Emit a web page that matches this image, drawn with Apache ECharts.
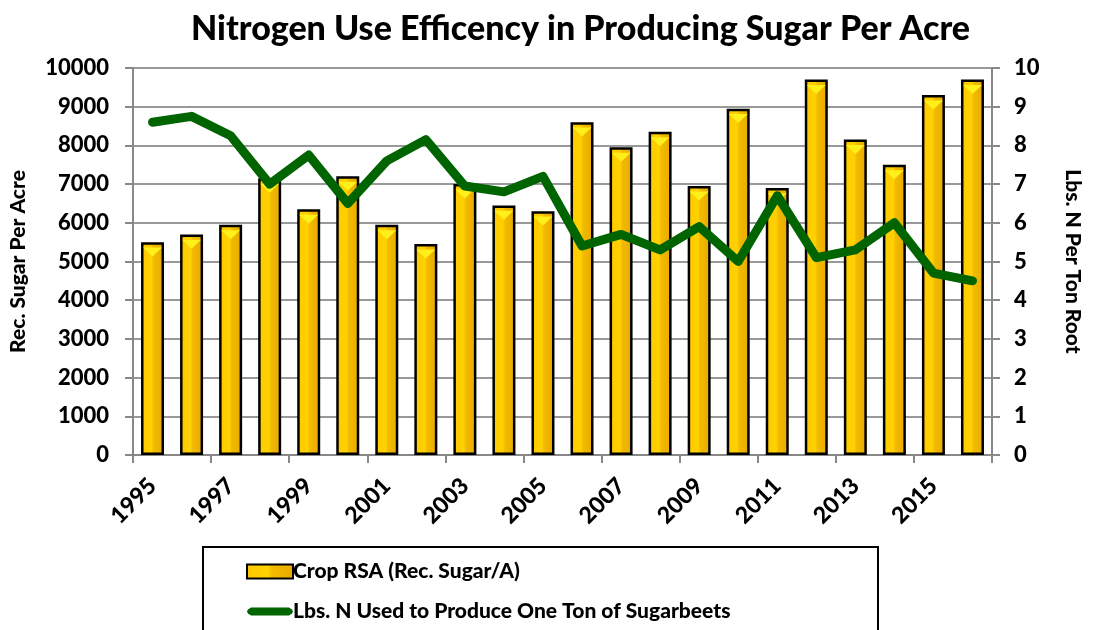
<!DOCTYPE html>
<html>
<head>
<meta charset="utf-8">
<script src="https://cdn.jsdelivr.net/npm/echarts@6/dist/echarts.min.js"></script>
<style>
  html, body { margin: 0; padding: 0; background: #fff; }
  #chart { width: 1097px; height: 630px; }
</style>
</head>
<body>
<div id="chart"></div>
<script>
// 年份
const years = ["1995", "1996", "1997", "1998", "1999", "2000", "2001", "2002", "2003", "2004", "2005",
  "2006", "2007", "2008", "2009", "2010", "2011", "2012", "2013", "2014", "2015", "2016"];
// 每英亩可回收糖 (左轴)
const cropRSA = [5500, 5700, 5950, 7150, 6350, 7200, 5950, 5450, 7000, 6450, 6300,
  8600, 7950, 8350, 6950, 8950, 6900, 9700, 8150, 7500, 9300, 9700];
// 每吨甜菜用氮量 (右轴)
const lbsN = [8.6, 8.75, 8.25, 7.0, 7.75, 6.5, 7.6, 8.15, 6.95, 6.8, 7.2,
  5.4, 5.7, 5.3, 5.9, 5.0, 6.7, 5.1, 5.3, 6.0, 4.7, 4.5];
const leftTicks = { min: 0, max: 10000, interval: 1000 };
const rightTicks = { min: 0, max: 10, interval: 1 };

const FONT = "Lato";
const WEIGHT = 900;
const chart = echarts.init(document.getElementById("chart"));

const barGradient = new echarts.graphic.LinearGradient(0, 0, 1, 0, [
  { offset: 0, color: "#FFC800" },
  { offset: 0.45, color: "#FFD200" },
  { offset: 0.55, color: "#F2BA00" },
  { offset: 1, color: "#E8AA00" },
]);

const option = {
  animation: false,
  title: {
    text: "Nitrogen Use Efficency in Producing Sugar Per Acre",
    left: 186,
    top: 7,
    textStyle: { fontFamily: FONT, fontWeight: WEIGHT, fontSize: 34, color: "#000" },
  },
  graphic: [
    {
      type: "rect",
      shape: { x: 203, y: 547, width: 675, height: 100 },
      style: { fill: "none", stroke: "#000", lineWidth: 2 },
    },
  ],
  legend: {
    orient: "vertical",
    left: 241,
    top: 556,
    height: 100,
    itemGap: 19,
    itemWidth: 46,
    itemHeight: 14,
    data: [
      { name: "Crop RSA (Rec. Sugar/A)", icon: "rect" },
      {
        name: "Lbs. N Used to Produce One Ton of Sugarbeets",
        icon: "path://M0,0 M46,14 M4,3 L42,3 L45,5 L46,7 L45,9 L42,11 L4,11 L1,9 L0,7 L1,5 Z",
      },
    ],
    textStyle: { fontFamily: FONT, fontWeight: WEIGHT, fontSize: 21, color: "#000", padding: [0, 0, 0, -5] },
  },
  grid: { left: 133, right: 105, top: 68, bottom: 175 },
  xAxis: {
    type: "category",
    data: years,
    boundaryGap: true,
    axisLine: { lineStyle: { color: "#888", width: 2 } },
    axisTick: { show: true, length: 8, lineStyle: { color: "#888", width: 2 } },
    axisLabel: {
      interval: 1,
      rotate: 45,
      margin: 27,
      fontFamily: FONT,
      fontWeight: WEIGHT,
      fontSize: 23,
      color: "#000",
    },
  },
  yAxis: [
    {
      type: "value",
      ...leftTicks,
      name: "Rec. Sugar Per Acre",
      nameLocation: "middle",
      nameGap: 104,
      nameRotate: 90,
      nameTextStyle: { fontFamily: FONT, fontWeight: WEIGHT, fontSize: 21, color: "#000" },
      axisLine: { show: true, lineStyle: { color: "#888", width: 2 } },
      axisTick: { show: true, length: 8, lineStyle: { color: "#888", width: 2 } },
      axisLabel: {
        margin: 24,
        formatter: (v) => String(v),
        fontFamily: FONT,
        fontWeight: WEIGHT,
        fontSize: 22,
        color: "#000",
      },
      splitLine: { show: true, lineStyle: { color: "#999", width: 2 } },
    },
    {
      type: "value",
      ...rightTicks,
      name: "Lbs. N Per Ton Root",
      nameLocation: "middle",
      nameGap: 70,
      nameRotate: -90,
      nameTextStyle: { fontFamily: FONT, fontWeight: WEIGHT, fontSize: 21, color: "#000" },
      axisLine: { show: true, lineStyle: { color: "#888", width: 2 } },
      axisTick: { show: true, length: 8, lineStyle: { color: "#888", width: 2 } },
      axisLabel: { margin: 22, fontFamily: FONT, fontWeight: WEIGHT, fontSize: 22, color: "#000" },
      splitLine: { show: false },
    },
  ],
  series: [
    {
      name: "Crop RSA (Rec. Sugar/A)",
      type: "bar",
      yAxisIndex: 0,
      data: cropRSA,
      barWidth: 23,
      itemStyle: { color: barGradient, borderColor: "#000", borderWidth: 2.5 },
      z: 2,
    },
    {
      // 柱顶的斜面高光
      name: "bevel",
      type: "pictorialBar",
      yAxisIndex: 0,
      data: cropRSA,
      barGap: "-100%",
      symbol: "path://M0,0 L10,0 L5,5 Z",
      symbolPosition: "end",
      symbolSize: [19, 9],
      symbolOffset: [0, "60%"],
      itemStyle: { color: "#FFF01A" },
      silent: true,
      z: 3,
    },
    {
      name: "Lbs. N Used to Produce One Ton of Sugarbeets",
      type: "line",
      yAxisIndex: 1,
      data: lbsN,
      showSymbol: false,
      symbol: "none",
      lineStyle: { color: "#006400", width: 9, cap: "round", join: "round" },
      itemStyle: { color: "#006400" },
      z: 5,
    },
  ],
};

chart.setOption(option);
</script>
</body>
</html>
